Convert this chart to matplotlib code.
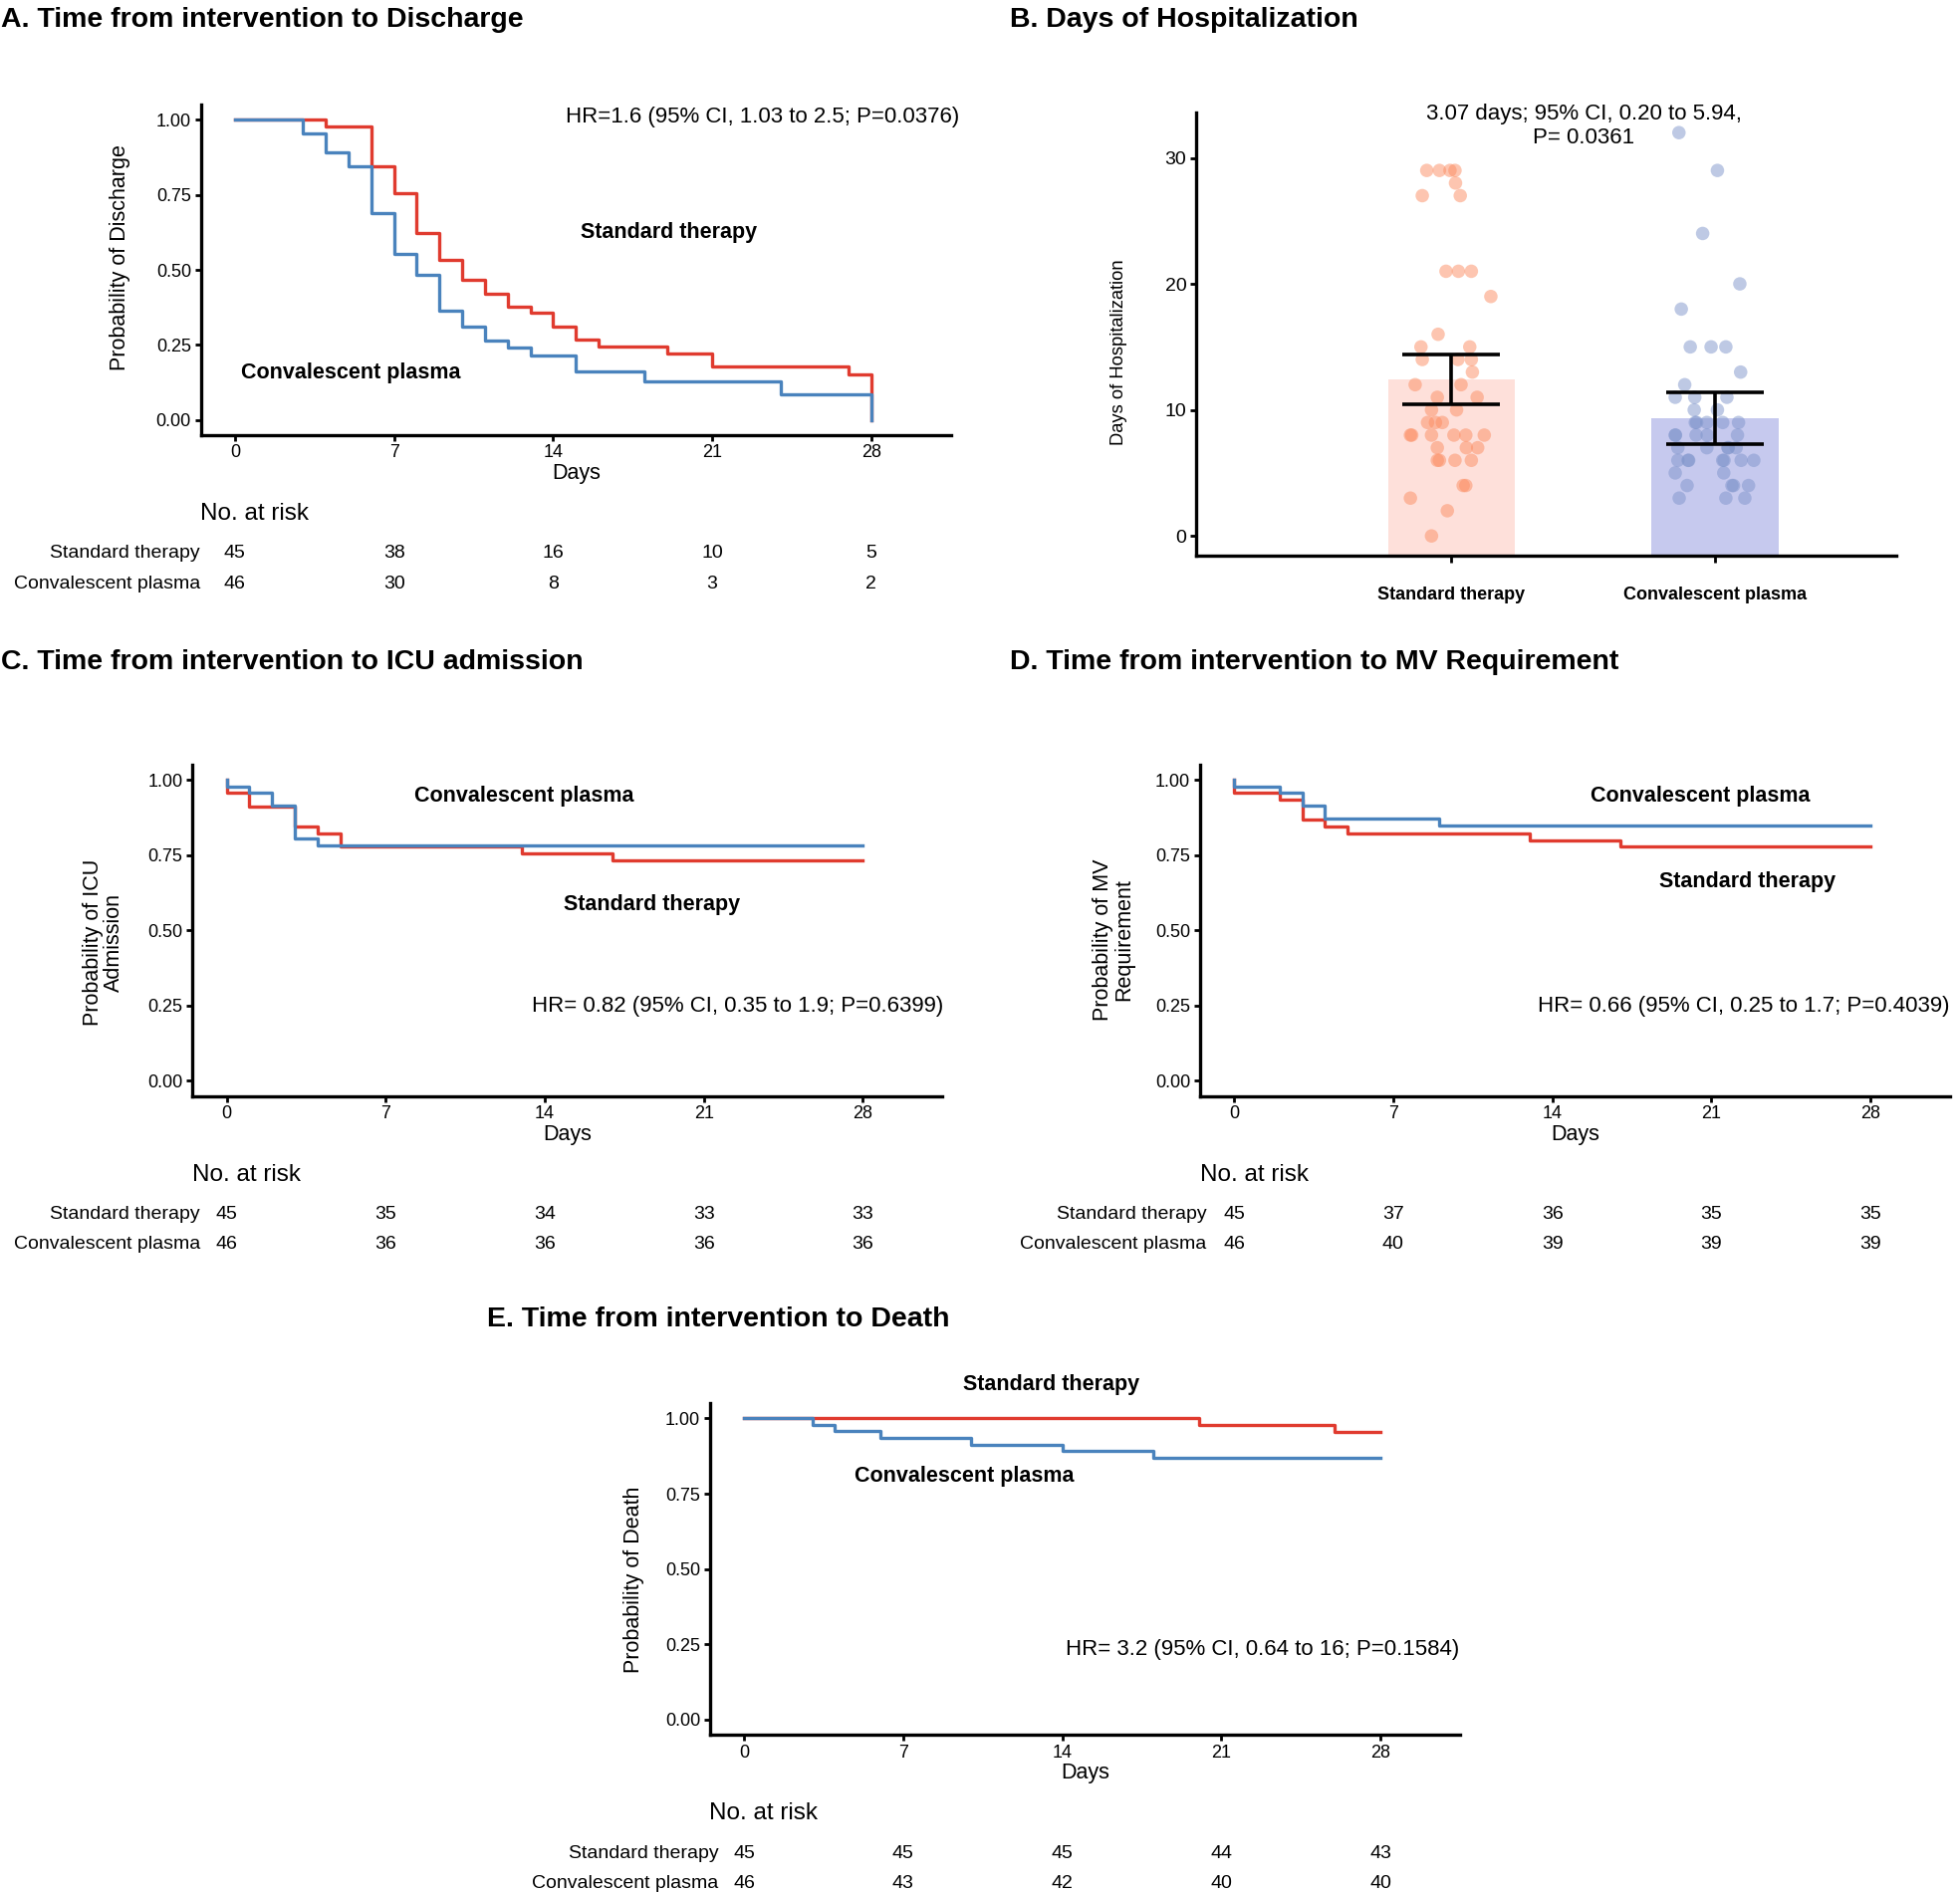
import numpy as np
import matplotlib
matplotlib.use('Agg')
import matplotlib.pyplot as plt
from matplotlib.transforms import blended_transform_factory

plt.rcParams['font.family'] = ['Liberation Sans', 'DejaVu Sans']

# ─── data ─────────────────────────────────────────────
groups = ['Standard therapy', 'Convalescent plasma']
day_ticks = [0, 7, 14, 21, 28]
prob_ticks = [0.0, 0.25, 0.5, 0.75, 1.0]
prob_labels = ['0.00', '0.25', '0.50', '0.75', '1.00']

# A. discharge
a_std_t = [0, 4, 6, 7, 8, 9, 10, 11, 12, 13, 14, 15, 16, 19, 21, 27, 28]
a_std_s = [1.0, 0.978, 0.844, 0.756, 0.622, 0.533, 0.467, 0.422, 0.378,
           0.356, 0.311, 0.267, 0.244, 0.222, 0.178, 0.153, 0.0]
a_cp_t = [0, 3, 4, 5, 6, 7, 8, 9, 10, 11, 12, 13, 15, 18, 24, 28]
a_cp_s = [1.0, 0.956, 0.891, 0.846, 0.691, 0.553, 0.483, 0.364, 0.312,
          0.265, 0.240, 0.215, 0.160, 0.127, 0.086, 0.0]
a_risk_std = [45, 38, 16, 10, 5]
a_risk_cp = [46, 30, 8, 3, 2]

# C. ICU admission
c_std_t = [0, 0, 1, 3, 4, 5, 13, 17, 28]
c_std_s = [1.0, 0.956, 0.911, 0.844, 0.822, 0.778, 0.756, 0.733, 0.733]
c_cp_t = [0, 0, 1, 2, 3, 4, 28]
c_cp_s = [1.0, 0.978, 0.957, 0.913, 0.804, 0.783, 0.783]
c_risk_std = [45, 35, 34, 33, 33]
c_risk_cp = [46, 36, 36, 36, 36]

# D. MV requirement
d_std_t = [0, 0, 2, 3, 4, 5, 13, 17, 28]
d_std_s = [1.0, 0.956, 0.933, 0.867, 0.844, 0.822, 0.800, 0.778, 0.778]
d_cp_t = [0, 0, 2, 3, 4, 9, 28]
d_cp_s = [1.0, 0.978, 0.957, 0.913, 0.870, 0.848, 0.848]
d_risk_std = [45, 37, 36, 35, 35]
d_risk_cp = [46, 40, 39, 39, 39]

# E. death
e_std_t = [0, 20, 26, 28]
e_std_s = [1.0, 0.978, 0.956, 0.956]
e_cp_t = [0, 3, 4, 6, 10, 14, 18, 28]
e_cp_s = [1.0, 0.978, 0.957, 0.935, 0.913, 0.891, 0.870, 0.870]
e_risk_std = [45, 45, 45, 44, 43]
e_risk_cp = [46, 43, 42, 40, 40]

# B. days of hospitalization
bar_mean = [12.42, 9.35]
bar_err = [1.98, 2.04]
std_days = [29, 29, 29, 29, 28, 27, 27, 21, 21, 21, 19, 16, 15, 15, 14, 14, 14,
            13, 12, 12, 11, 11, 10, 10, 9, 9, 9, 8, 8, 8, 8, 8, 8, 7, 7, 7,
            6, 6, 6, 6, 4, 4, 3, 2, 0]
std_xpos = [0.907, 0.955, 0.995, 1.014, 1.016, 0.890, 1.034, 0.980, 1.027, 1.076,
            1.150, 0.950, 0.885, 1.070, 0.890, 1.025, 1.076, 1.080, 0.863, 1.037,
            0.947, 1.098, 0.925, 1.020, 0.910, 0.940, 0.966, 0.845, 0.850, 0.925,
            1.010, 1.055, 1.125, 0.947, 1.057, 1.100, 0.947, 0.955, 1.014, 1.076,
            1.045, 1.055, 0.845, 0.985, 0.925]
cp_days = [32, 29, 24, 20, 18, 15, 15, 15, 13, 12, 11, 11, 11, 10, 10, 9, 9, 9,
           9, 9, 8, 8, 8, 8, 8, 7, 7, 7, 7, 7, 6, 6, 6, 6, 6, 6, 6, 5, 5, 4,
           4, 4, 4, 3, 3, 3]
cp_xpos = [1.863, 2.009, 1.953, 2.094, 1.872, 1.906, 1.985, 2.041, 2.097, 1.885,
           1.849, 1.923, 2.045, 1.921, 2.009, 1.925, 1.969, 2.029, 2.089, 1.930,
           1.849, 1.928, 1.970, 2.085, 1.850, 1.859, 1.969, 2.049, 2.080, 2.050,
           1.859, 1.898, 2.029, 2.034, 2.099, 2.147, 1.900, 1.849, 2.033, 1.894,
           2.064, 2.127, 2.070, 1.864, 2.041, 2.113]

RED = '#E03B2F'
BLUE = '#4A83BD'

# ─── layout helpers (reference pixel grid) ───────────────
REF_W, REF_H = 1568, 1514
fig = plt.figure(figsize=(19.68, 19.0), dpi=100)

TITLE_FS = 20.5
NOTE_FS = 16
LABEL_FS = 15.5


def box(x0, y0, x1, y1):
    return [x0 / REF_W, 1 - y1 / REF_H, (x1 - x0) / REF_W, (y1 - y0) / REF_H]


def ftxt(x, y, s, **kw):
    fig.text(x / REF_W, 1 - (y + 2) / REF_H, s, **kw)


def style_axes(ax):
    for s in ['top', 'right']:
        ax.spines[s].set_visible(False)
    for s in ['left', 'bottom']:
        ax.spines[s].set_linewidth(2.4)
    ax.tick_params(direction='out', width=2.0, length=4, labelsize=13,
                   colors='black', pad=3)


def km_panel(rect, std_t, std_s, cp_t, cp_s, notes, risk_std, risk_cp,
             risk_y, lab_x, nar_x):
    ax = fig.add_axes(box(*rect))
    ax.step(std_t, std_s, where='post', color=RED, lw=2.4)
    ax.step(cp_t, cp_s, where='post', color=BLUE, lw=2.4)
    ax.set_xlim(-1.5, 31.5)
    ax.set_ylim(-0.05, 1.05)
    ax.set_xticks(day_ticks)
    ax.set_yticks(prob_ticks)
    ax.set_yticklabels(prob_labels)
    style_axes(ax)
    ax.set_xlabel('Days', fontsize=LABEL_FS)
    ax.xaxis.set_label_coords(0.5, -0.085)
    for (x, y, s, bold) in notes:
        ax.text(x, y, s, ha='center', va='center',
                fontsize=LABEL_FS if bold else NOTE_FS,
                fontweight='bold' if bold else 'normal', clip_on=False)
    # no. at risk table
    trans = blended_transform_factory(ax.transData, fig.transFigure)
    ftxt(nar_x, risk_y, 'No. at risk', ha='left', va='center', fontsize=17.5)
    for row, (name, vals) in enumerate(zip(groups, [risk_std, risk_cp])):
        yy = risk_y + 32 + 24 * row
        ftxt(lab_x, yy, name, ha='right', va='center', fontsize=14)
        for d, v in zip(day_ticks, vals):
            ax.text(d, 1 - (yy + 2) / REF_H, str(v), transform=trans,
                    ha='center', va='center', fontsize=14)
    return ax


# ─── A ─────────────────────────────────────────────
km_panel((160.7, 84, 760.7, 348), a_std_t, a_std_s, a_cp_t, a_cp_s,
         [(23.2, 1.01, 'HR=1.6 (95% CI, 1.03 to 2.5; P=0.0376)', False),
          (19.1, 0.625, 'Standard therapy', True),
          (5.1, 0.158, 'Convalescent plasma', True)],
         a_risk_std, a_risk_cp, 409, 160, 160)
ftxt(96, 204, 'Probability of Discharge', rotation=90, ha='center', va='center',
     fontsize=LABEL_FS)
ftxt(1, 14, 'A. Time from intervention to Discharge', ha='left', va='center',
     fontsize=TITLE_FS, fontweight='bold')

# ─── C ─────────────────────────────────────────────
km_panel((154, 612, 754, 877), c_std_t, c_std_s, c_cp_t, c_cp_s,
         [(13.1, 0.945, 'Convalescent plasma', True),
          (18.7, 0.587, 'Standard therapy', True),
          (22.5, 0.249, 'HR= 0.82 (95% CI, 0.35 to 1.9; P=0.6399)', False)],
         c_risk_std, c_risk_cp, 938, 160, 154)
ftxt(82.5, 752, 'Probability of ICU\nAdmission', rotation=90, ha='center',
     va='center', fontsize=LABEL_FS, multialignment='center', linespacing=1.0)
ftxt(1, 528, 'C. Time from intervention to ICU admission', ha='left',
     va='center', fontsize=TITLE_FS, fontweight='bold')

# ─── D ─────────────────────────────────────────────
km_panel((960, 612, 1560, 877), d_std_t, d_std_s, d_cp_t, d_cp_s,
         [(20.5, 0.945, 'Convalescent plasma', True),
          (22.6, 0.662, 'Standard therapy', True),
          (22.4, 0.249, 'HR= 0.66 (95% CI, 0.25 to 1.7; P=0.4039)', False)],
         d_risk_std, d_risk_cp, 938, 965, 960)
ftxt(891, 750, 'Probability of MV\nRequirement', rotation=90, ha='center',
     va='center', fontsize=LABEL_FS, multialignment='center', linespacing=1.0)
ftxt(808, 528, 'D. Time from intervention to MV Requirement', ha='left',
     va='center', fontsize=TITLE_FS, fontweight='bold')

# ─── E ─────────────────────────────────────────────
km_panel((568, 1123, 1168, 1388), e_std_t, e_std_s, e_cp_t, e_cp_s,
         [(13.5, 1.111, 'Standard therapy', True),
          (9.7, 0.808, 'Convalescent plasma', True),
          (22.8, 0.232, 'HR= 3.2 (95% CI, 0.64 to 16; P=0.1584)', False)],
         e_risk_std, e_risk_cp, 1449, 575, 567)
ftxt(507, 1262, 'Probability of Death', rotation=90, ha='center', va='center',
     fontsize=LABEL_FS)
ftxt(390, 1054, 'E. Time from intervention to Death', ha='left', va='center',
     fontsize=TITLE_FS, fontweight='bold')

# ─── B ─────────────────────────────────────────────
b_lo, b_hi = -1.6, 33.6
axb = fig.add_axes(box(957, 90, 1517, 445))
axb.bar([1, 2], [m - b_lo for m in bar_mean], bottom=b_lo, width=0.48,
        color=['#FEE0DA', '#C6C9EE'], zorder=1)
axb.scatter(std_xpos, std_days, s=95, color='#FC8D62', alpha=0.5,
            edgecolors='none', zorder=2)
axb.scatter(cp_xpos, cp_days, s=95, color='#7F95CB', alpha=0.5,
            edgecolors='none', zorder=2)
axb.errorbar([1, 2], bar_mean, yerr=bar_err, fmt='none', ecolor='black',
             elinewidth=2.6, capsize=35, capthick=2.6, zorder=3)
axb.set_xlim(0.033, 2.687)
axb.set_ylim(b_lo, b_hi)
axb.set_yticks([0, 10, 20, 30])
axb.set_xticks([1, 2])
axb.set_xticklabels(groups, fontweight='bold', fontsize=14.4)
style_axes(axb)
axb.tick_params(axis='y', labelsize=14)
axb.tick_params(axis='x', pad=17, length=5)
axb.text(1.502, 32.55, '3.07 days; 95% CI, 0.20 to 5.94,\nP= 0.0361',
         ha='center', va='center', fontsize=NOTE_FS, multialignment='center',
         linespacing=1.2)
ftxt(895, 280, 'Days of Hospitalization', rotation=90, ha='center',
     va='center', fontsize=13.2)
ftxt(808, 14, 'B. Days of Hospitalization', ha='left', va='center',
     fontsize=TITLE_FS, fontweight='bold')

fig.savefig('out.png', dpi=100)
